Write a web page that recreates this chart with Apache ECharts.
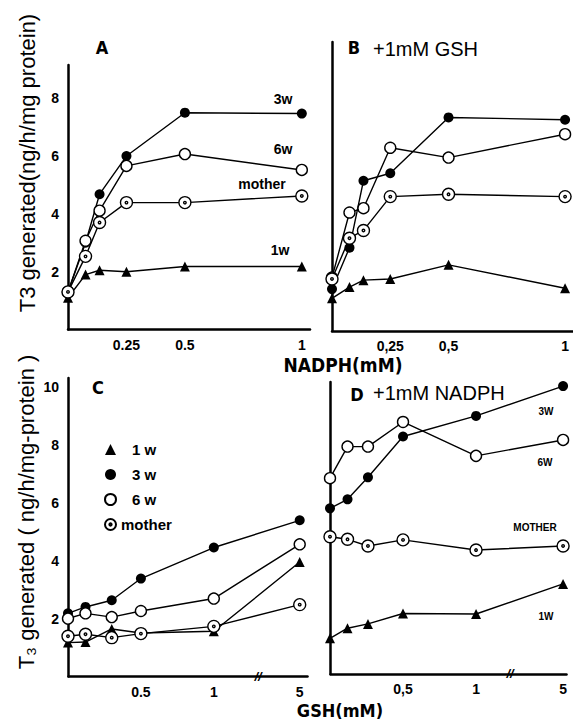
<!DOCTYPE html>
<html>
<head>
<meta charset="utf-8">
<script src="https://cdn.jsdelivr.net/npm/echarts@6/dist/echarts.min.js"></script>
<style>
html,body{margin:0;padding:0;background:#fff;}
#chart{width:573px;height:719px;}
</style>
</head>
<body>
<div id="chart"></div>
<script>
// ---------- data ----------
const nadphX = [0, 0.075, 0.135, 0.25, 0.5, 1];
const gshXC = [0, 0.12, 0.3, 0.5, 1, 5];
const gshXD = [0, 0.12, 0.26, 0.5, 1, 5];

const a1w = [1.1, 1.9, 2.05, 2.0, 2.18, 2.18];
const a3w = [1.3, 3.0, 4.68, 6.0, 7.5, 7.47];
const a6w = [1.3, 3.07, 4.11, 5.66, 6.07, 5.52];
const aMother = [1.3, 2.53, 3.7, 4.39, 4.39, 4.62];

const b1w = [1.13, 1.52, 1.76, 1.8, 2.29, 1.48];
const b3w = [1.45, 2.88, 5.2, 5.46, 7.39, 7.31];
const b6w = [1.85, 4.1, 4.25, 6.34, 6.0, 6.81];
const bMother = [1.8, 3.21, 3.48, 4.65, 4.73, 4.65];

const c1w = [1.17, 1.19, 1.64, 1.5, 1.56, 3.95];
const c3w = [2.18, 2.4, 2.63, 3.38, 4.45, 5.39];
const c6w = [2.0, 2.18, 2.05, 2.26, 2.69, 4.56];
const cMother = [1.39, 1.46, 1.34, 1.48, 1.73, 2.48];

const d1w = [1.23, 1.58, 1.73, 2.09, 2.07, 3.11];
const d3w = [5.72, 6.03, 6.79, 8.2, 8.91, 9.94];
const d6w = [6.76, 7.85, 7.85, 8.7, 7.53, 8.08];
const dMother = [4.74, 4.65, 4.42, 4.63, 4.28, 4.42];

const seriesNames = ['1 w', '3 w', '6 w', 'mother'];
const nadphTicksA = [0.25, 0.5, 1];
const gshTicks = [0.5, 1, 5];
const yTicksA = [2, 4, 6, 8];
const yTicksC = [2, 4, 6, 8, 10];

// ---------- styles ----------
const FONT = '"Liberation Sans", Arial, sans-serif';
const COND = '"DejaVu Sans Condensed", "Liberation Sans Narrow", "DejaVu Sans", sans-serif';
const motherPath = 'path://M12,0A12,12,0,1,1,12,24A12,12,0,1,1,12,0ZM12,9.5A2.5,2.5,0,1,1,12,14.5A2.5,2.5,0,1,1,12,9.5Z';
const sym = {
  '1 w': {symbol: 'triangle', symbolSize: 10, itemStyle: {color: '#000'}},
  '3 w': {symbol: 'circle', symbolSize: 10, itemStyle: {color: '#000'}},
  '6 w': {symbol: 'circle', symbolSize: 11, itemStyle: {color: '#fff', borderColor: '#000', borderWidth: 1.4}},
  'mother': {symbol: motherPath, symbolSize: 12, itemStyle: {color: '#fff', borderColor: '#000', borderWidth: 1.4}}
};

function pairs(xs, ys) { return xs.map((x, i) => [x, ys[i]]); }
function mk(name, idx, xs, ys) {
  return Object.assign({
    name: name, type: 'line', xAxisIndex: idx, yAxisIndex: idx,
    data: pairs(xs, ys), showAllSymbol: true, animation: false,
    lineStyle: {color: '#000', width: 1.4}, z: 3
  }, sym[name]);
}

const series = [];
[[a1w, a3w, a6w, aMother, nadphX], [b1w, b3w, b6w, bMother, nadphX],
 [c1w, c3w, c6w, cMother, gshXC], [d1w, d3w, d6w, dMother, gshXD]].forEach((set, idx) => {
  seriesNames.forEach((n, k) => series.push(mk(n, idx, set[4], set[k])));
});

const axisLine = {show: true, lineStyle: {color: '#000', width: 2.5}};
const labelStyle = {color: '#000', fontSize: 14, fontWeight: 'bold', fontFamily: FONT};

function xAx(idx, max, ticks, fmt, extra) {
  return Object.assign({
    type: 'value', gridIndex: idx, min: 0, max: max,
    axisLine: axisLine, axisTick: {show: false}, splitLine: {show: false},
    axisLabel: Object.assign({customValues: ticks, margin: 8, formatter: fmt, showMinLabel: true, showMaxLabel: true}, labelStyle)
  }, extra || {});
}
function yAx(idx, max, ticks) {
  return {
    type: 'value', gridIndex: idx, min: 0, max: max,
    axisLine: axisLine, axisTick: {show: false}, splitLine: {show: false},
    axisLabel: ticks ? Object.assign({customValues: ticks, margin: 9}, labelStyle) : {show: false}
  };
}
const dot = v => String(v);
const comma = v => String(v).replace('.', ',');
const breakArea = {
  show: true, expandOnClick: false, zigzagAmplitude: 0,
  itemStyle: {color: 'rgba(255,255,255,0)', borderColor: 'rgba(255,255,255,0)', borderWidth: 0, opacity: 0}
};

const option = {
  backgroundColor: '#fff',
  animation: false,
  grid: [
    {left: 68, top: 65, width: 242, height: 264.5},
    {left: 332, top: 42, width: 241, height: 289},
    {left: 68, top: 378, width: 239, height: 298.5},
    {left: 330, top: 382, width: 236, height: 292}
  ],
  xAxis: [
    xAx(0, 1.035, nadphTicksA, dot),
    xAx(1, 1.034, nadphTicksA, comma),
    xAx(2, 5.05, gshTicks, dot, {breaks: [{start: 1.3, end: 4.716, gap: 0.005}], breakArea: breakArea}),
    xAx(3, 5.02, gshTicks, comma, {breaks: [{start: 1.23, end: 4.639, gap: 0.005}], breakArea: breakArea})
  ],
  yAxis: [
    yAx(0, 9.15, yTicksA),
    yAx(1, 10.0, null),
    yAx(2, 10.3, yTicksC),
    yAx(3, 10.08, null)
  ],
  legend: {
    show: true, orient: 'vertical', left: 99, top: 437,
    itemWidth: 11, itemHeight: 11, itemGap: 10, selectedMode: false,
    data: [
      {name: '1 w', icon: 'triangle'},
      {name: '3 w', icon: 'circle'},
      {name: '6 w', icon: 'circle'},
      {name: 'mother', icon: motherPath}
    ],
    formatter: n => n === 'mother' ? n : '{s|}' + n,
    textStyle: {color: '#000', fontSize: 15, lineHeight: 15, fontWeight: 'bold', fontFamily: FONT, rich: {s: {width: 11}}}
  },
  series: series,
  graphic: [
    // y-axis titles
    {type: 'text', x: 27, y: 163, rotation: Math.PI / 2, style: {text: 'T3 generated(ng/h/mg protein)', textAlign: 'center', textVerticalAlign: 'middle', font: '22px ' + FONT, fill: '#000'}},
    {type: 'text', x: 26, y: 512, rotation: Math.PI / 2, style: {text: 'T\u2083 generated ( ng/h/mg-protein )', textAlign: 'center', textVerticalAlign: 'middle', font: '22px ' + FONT, fill: '#000'}},
    // panel titles
    {type: 'text', x: 102, y: 47, style: {text: 'A', textAlign: 'center', textVerticalAlign: 'middle', font: 'bold 18px ' + COND, fill: '#000'}},
    {type: 'text', x: 354, y: 47, style: {text: 'B', textAlign: 'center', textVerticalAlign: 'middle', font: 'bold 18px ' + COND, fill: '#000'}},
    {type: 'text', x: 373, y: 49, style: {text: '+1mM GSH', textAlign: 'left', textVerticalAlign: 'middle', font: '20px ' + FONT, fill: '#000'}},
    {type: 'text', x: 98, y: 387, style: {text: 'C', textAlign: 'center', textVerticalAlign: 'middle', font: 'bold 18px ' + COND, fill: '#000'}},
    {type: 'text', x: 357, y: 394, style: {text: 'D', textAlign: 'center', textVerticalAlign: 'middle', font: 'bold 18px ' + COND, fill: '#000'}},
    {type: 'text', x: 373, y: 393, style: {text: '+1mM NADPH', textAlign: 'left', textVerticalAlign: 'middle', font: '20px ' + FONT, fill: '#000'}},
    // x-axis titles
    {type: 'text', x: 343, y: 365, style: {text: 'NADPH(mM)', textAlign: 'center', textVerticalAlign: 'middle', font: 'bold 19px ' + COND, fill: '#000'}},
    {type: 'text', x: 340, y: 710, style: {text: 'GSH(mM)', textAlign: 'center', textVerticalAlign: 'middle', font: 'bold 18px ' + COND, fill: '#000'}},
    // axis break marks
    {type: 'text', x: 258, y: 676, style: {text: '//', textAlign: 'center', textVerticalAlign: 'middle', font: 'bold italic 13px ' + FONT, fill: '#000'}},
    {type: 'text', x: 510, y: 673, style: {text: '//', textAlign: 'center', textVerticalAlign: 'middle', font: 'bold italic 13px ' + FONT, fill: '#000'}},
    // series labels panel A
    {type: 'text', x: 283, y: 99, style: {text: '3w', textAlign: 'center', textVerticalAlign: 'middle', font: 'bold 14px ' + FONT, fill: '#000'}},
    {type: 'text', x: 283, y: 149, style: {text: '6w', textAlign: 'center', textVerticalAlign: 'middle', font: 'bold 14px ' + FONT, fill: '#000'}},
    {type: 'text', x: 262, y: 184, style: {text: 'mother', textAlign: 'center', textVerticalAlign: 'middle', font: 'bold 14px ' + FONT, fill: '#000'}},
    {type: 'text', x: 280, y: 250, style: {text: '1w', textAlign: 'center', textVerticalAlign: 'middle', font: 'bold 14px ' + FONT, fill: '#000'}},
    // series labels panel D
    {type: 'text', x: 546, y: 411, style: {text: '3W', textAlign: 'center', textVerticalAlign: 'middle', font: 'bold 10px ' + FONT, fill: '#000'}},
    {type: 'text', x: 545, y: 462, style: {text: '6W', textAlign: 'center', textVerticalAlign: 'middle', font: 'bold 10px ' + FONT, fill: '#000'}},
    {type: 'text', x: 535, y: 527, style: {text: 'MOTHER', textAlign: 'center', textVerticalAlign: 'middle', font: 'bold 10px ' + FONT, fill: '#000'}},
    {type: 'text', x: 546, y: 616, style: {text: '1W', textAlign: 'center', textVerticalAlign: 'middle', font: 'bold 10px ' + FONT, fill: '#000'}}
  ]
};

const chart = echarts.init(document.getElementById('chart'), null, {renderer: 'svg'});
chart.setOption(option);
</script>
</body>
</html>
